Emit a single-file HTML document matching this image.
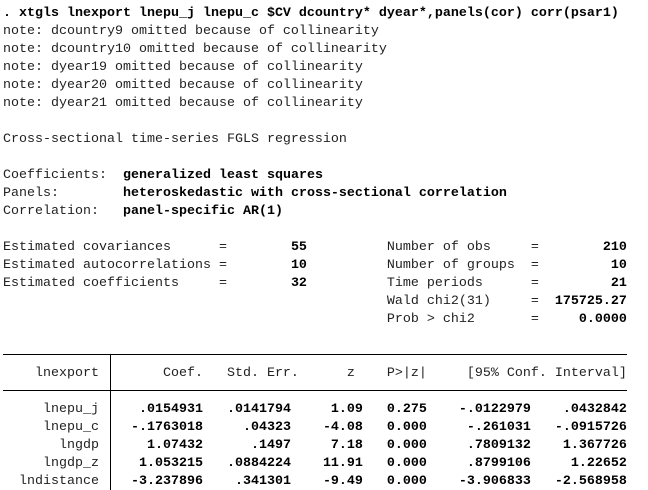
<!DOCTYPE html>
<html><head><meta charset="utf-8"><style>
html,body{margin:0;padding:0;background:#fff;width:648px;height:490px;overflow:hidden;position:relative}
pre{position:absolute;left:3px;top:5px;margin:0;font-family:"Liberation Mono",monospace;font-size:13.33px;line-height:18px;color:#222}
b{font-weight:bold;color:#000}
.h{position:absolute;left:3px;width:624px;height:1px;background:#000}
.v{position:absolute;left:110px;top:354px;width:1px;height:136px;background:#000}
</style></head><body>
<pre><b>. xtgls lnexport lnepu_j lnepu_c $CV dcountry* dyear*,panels(cor) corr(psar1)</b>
note: dcountry9 omitted because of collinearity
note: dcountry10 omitted because of collinearity
note: dyear19 omitted because of collinearity
note: dyear20 omitted because of collinearity
note: dyear21 omitted because of collinearity

Cross-sectional time-series FGLS regression

Coefficients:  <b>generalized least squares</b>
Panels:        <b>heteroskedastic with cross-sectional correlation</b>
Correlation:   <b>panel-specific AR(1)</b>

Estimated covariances      =<b>        55</b>          Number of obs     =<b>        210</b>
Estimated autocorrelations =<b>        10</b>          Number of groups  =<b>         10</b>
Estimated coefficients     =<b>        32</b>          Time periods      =<b>         21</b>
                                                Wald chi2(31)     =<b>  175725.27</b>
                                                Prob &gt; chi2       =<b>     0.0000</b>


    lnexport        Coef.   Std. Err.      z    P&gt;|z|     [95% Conf. Interval]

     lnepu_j   <b>  .0154931   .0141794     1.09   0.275    -.0122979    .0432842</b>
     lnepu_c   <b> -.1763018     .04323    -4.08   0.000     -.261031   -.0915726</b>
       lngdp   <b>   1.07432      .1497     7.18   0.000     .7809132    1.367726</b>
     lngdp_z   <b>  1.053215   .0884224    11.91   0.000     .8799106     1.22652</b>
  lndistance   <b> -3.237896    .341301    -9.49   0.000    -3.906833   -2.568958</b>
</pre>
<div class="h" style="top:354px"></div>
<div class="h" style="top:390px"></div>
<div class="v"></div>
</body></html>
